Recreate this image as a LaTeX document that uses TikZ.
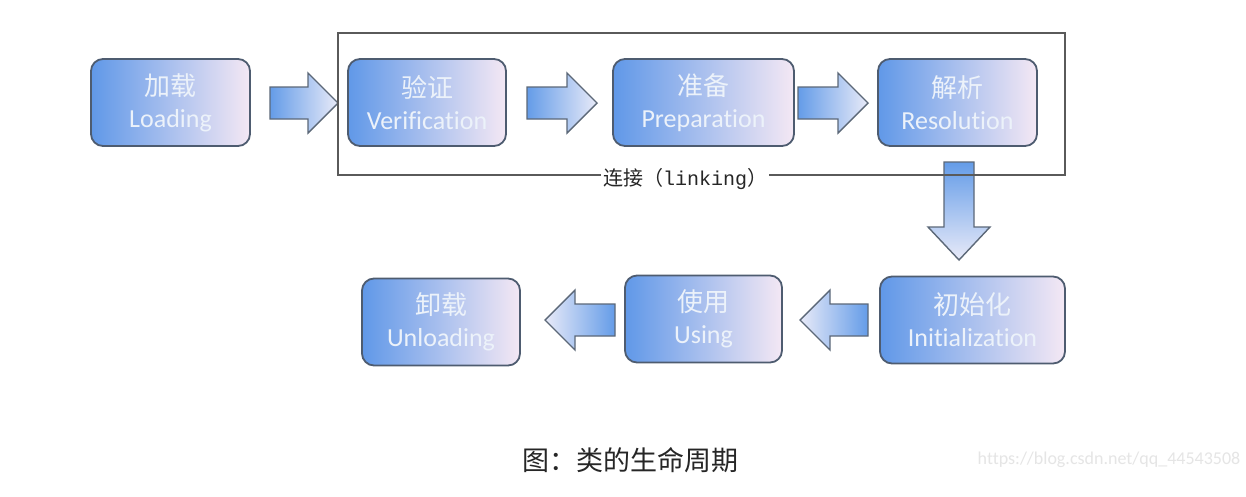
\documentclass[tikz,border=0pt]{standalone}
\usepackage{fontspec}
\setmainfont{Carlito}[Ligatures=NoCommon]
\newfontfamily\cjk{Noto Sans CJK SC}
\newfontfamily\monof{Liberation Mono}
\definecolor{boxL}{RGB}{96,152,232}
\definecolor{boxR}{RGB}{244,232,244}
\definecolor{boxB}{RGB}{78,92,112}
\definecolor{txt}{RGB}{236,242,250}
\definecolor{arrB}{RGB}{92,104,120}
\definecolor{arrL}{RGB}{100,156,232}
\definecolor{arrR}{RGB}{232,234,248}
\definecolor{lineC}{RGB}{90,90,90}
\tikzset{
  stage/.style={draw=boxB, line width=1.8pt, rounded corners=12pt, left color=boxL, right color=boxR,
    minimum height=87pt, inner sep=0pt, align=center, text=txt, font=\fontsize{26}{32}\selectfont},
  blockarr/.style={draw=arrB, line width=1.4pt, line join=miter},
}
\newcommand\arrRight[3]{\draw[blockarr,left color=arrL,right color=arrR] (#1,-#3+16) -- (#2-30,-#3+16) -- (#2-30,-#3+30) -- (#2,-#3) -- (#2-30,-#3-30) -- (#2-30,-#3-16) -- (#1,-#3-16) -- cycle;}
\newcommand\arrLeft[3]{\draw[blockarr,left color=arrR,right color=arrL] (#2,-#3+16) -- (#1+30,-#3+16) -- (#1+30,-#3+30) -- (#1,-#3) -- (#1+30,-#3-30) -- (#1+30,-#3-16) -- (#2,-#3-16) -- cycle;}
\begin{document}
\begin{tikzpicture}[x=1pt,y=1pt]
\useasboundingbox (0,0) rectangle (1246,-496);
\fill[white] (0,0) rectangle (1246,-496);
% block arrows
\arrRight{270}{338}{103}
\arrRight{527}{597}{103}
\arrRight{798}{868}{103}
\draw[blockarr,top color=arrL,bottom color=arrR] (944,-162) -- (974,-162) -- (974,-227) -- (990,-227) -- (959,-260) -- (928,-227) -- (944,-227) -- cycle;
\arrLeft{800}{868}{320}
\arrLeft{545}{615}{320}
% linking frame
\node[draw=lineC, line width=1.2pt, minimum width=727pt, minimum height=142pt, inner sep=0pt] (link) at (701.5,-104) {};
\node[fill=white, inner sep=2pt, text=black!85, font=\fontsize{20}{20}\selectfont] (lbl) at (685,-179) {{\cjk 连接（}{\monof linking}{\cjk ）}};
% stages
\node[stage, minimum width=159pt] (load) at (170.5,-102.5) {{\cjk 加载}\\Loading};
\node[stage, minimum width=158pt] (ver) at (427,-102.5) {{\cjk 验证}\\Verification};
\node[stage, minimum width=181pt] (prep) at (703.5,-102.5) {{\cjk 准备}\\Preparation};
\node[stage, minimum width=159pt] (res) at (957.5,-102.5) {{\cjk 解析}\\Resolution};
\node[stage, minimum width=185pt] (init) at (972.5,-320) {{\cjk 初始化}\\Initialization};
\node[stage, minimum width=157pt] (use) at (703.5,-319) {{\cjk 使用}\\Using};
\node[stage, minimum width=158pt] (unload) at (441,-322) {{\cjk 卸载}\\Unloading};
% caption
\node[text=black!85, font=\fontsize{27}{27}\selectfont] (cap) at (630,-460) {\cjk 图：类的生命周期};
\node[text=black!10, font=\fontsize{18}{18}\selectfont] (wm) at (1109,-460) {https://blog.csdn.net/qq\_44543508};
\end{tikzpicture}
\end{document}
